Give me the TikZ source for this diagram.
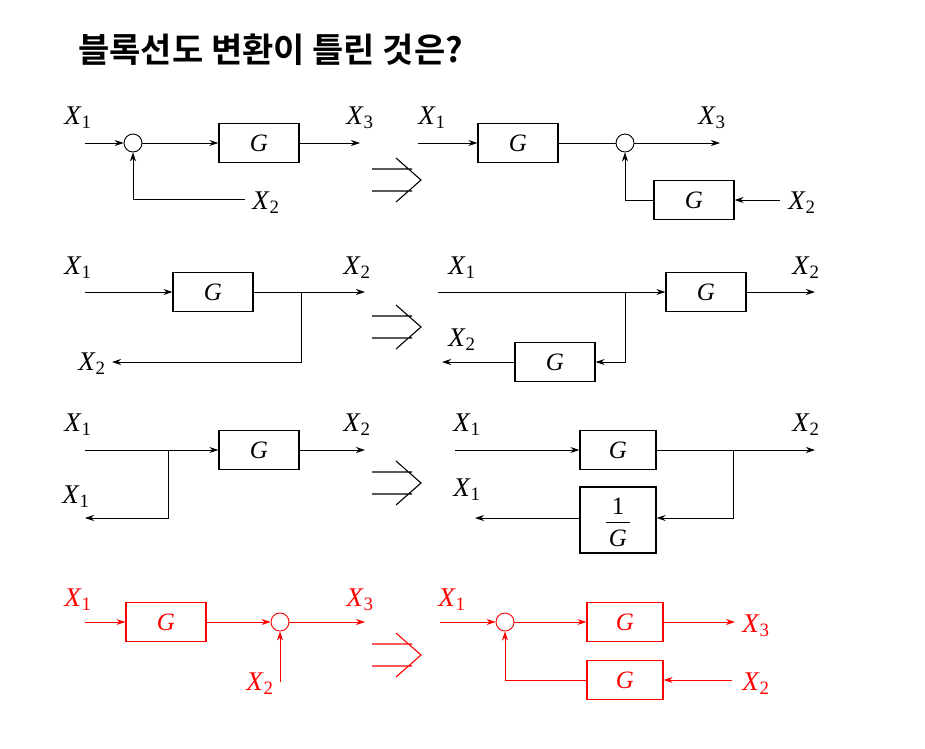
\documentclass[tikz,border=0pt]{standalone}
\usepackage{fix-cm}
\usepackage{fontspec}
\setmainfont{Liberation Serif}
\newfontfamily\kr{Noto Sans CJK KR}[BoldFont={* Bold}]
\usetikzlibrary{arrows.meta}
\newcommand{\xv}[1]{\textit{X}\textsubscript{#1}}
\begin{document}
\begin{tikzpicture}[x=1pt,y=-1pt,
  blk/.style={draw,line width=1.3pt,minimum width=80pt,minimum height=39pt,inner sep=0pt,font=\fontsize{25}{25}\selectfont\itshape},
  sm/.style={draw,circle,minimum size=18pt,inner sep=0pt,line width=0.9pt},
  lab/.style={inner sep=0pt,font=\fontsize{27}{27}\selectfont},
  num/.style={inner sep=0pt,font=\fontsize{34}{34}\selectfont},
  ln/.style={line width=0.9pt},
  ar/.style={ln,-{Stealth[length=9pt,width=6pt]}},
  imp/.style={line width=1.1pt}]
\useasboundingbox (0,0) rectangle (925,748);
\fill[white] (0,0) rectangle (925,748);
\node[anchor=west,inner sep=0pt,font=\kr\bfseries\fontsize{34}{34}\selectfont] (title) at (78,50) {블록선도 변환이 틀린 것은?};
\newcommand{\impl}[1]{\draw[imp] (372,#1-11)--(412,#1-11) (372,#1+11)--(412,#1+11) (396,#1-22)--(421,#1)--(396,#1+22);}
\node[num] (n1) at (22,162) {①};
\node[num] (n2) at (22,325) {②};
\node[num] (n3) at (22,483) {③};
\node[num,red] (n4) at (22,650) {④};
% row 1 left
\node[lab] (a1) at (78,118) {\xv{1}};
\coordinate (a1s) at (85,143);
\node[sm] (c1) at (133,143) {};
\node[blk] (g1) at (259,143) {G};
\coordinate (a3e) at (360,143);
\node[lab] (a3) at (360,118) {\xv{3}};
\coordinate (a2s) at (245,199);
\node[lab] (a2) at (266,203) {\xv{2}};
\draw[ar] (a1s)--(c1);
\draw[ar] (c1)--(g1);
\draw[ar] (g1)--(a3e);
\draw[ar] (a2s)-|(c1);
\impl{180}
% row 1 right
\node[lab] (b1) at (432,118) {\xv{1}};
\coordinate (b1s) at (418,143);
\node[blk] (h1) at (518,143) {G};
\node[sm] (d1) at (625,143) {};
\coordinate (b3e) at (720,143);
\node[lab] (b3) at (712,118) {\xv{3}};
\node[blk] (h2) at (694,200) {G};
\coordinate (b2s) at (780,200);
\node[lab] (b2) at (802,203) {\xv{2}};
\draw[ar] (b1s)--(h1);
\draw[ln] (h1)--(d1);
\draw[ar] (d1)--(b3e);
\draw[ar] (b2s)--(h2);
\draw[ar] (h2)-|(d1);
% row 2 left
\node[lab] (p1) at (78,268) {\xv{1}};
\coordinate (p1s) at (85,292);
\node[blk] (pg) at (213,292) {G};
\coordinate (p2e) at (365,292);
\node[lab] (p2) at (357,268) {\xv{2}};
\coordinate (pb) at (301,292);
\coordinate (p3e) at (112,362);
\node[lab] (p3) at (92,364) {\xv{2}};
\draw[ar] (p1s)--(pg);
\draw[ar] (pg)--(p2e);
\draw[ar] (pb)|-(p3e);
\impl{327}
% row 2 right
\node[lab] (q1) at (462,268) {\xv{1}};
\coordinate (q1s) at (438,292);
\node[blk] (qg) at (706,292) {G};
\coordinate (q2e) at (815,292);
\node[lab] (q2) at (806,268) {\xv{2}};
\coordinate (qb) at (625,292);
\node[blk] (qh) at (555,362) {G};
\coordinate (q3e) at (442,362);
\node[lab] (q3) at (462,340) {\xv{2}};
\draw[ar] (q1s)--(qg);
\draw[ar] (qg)--(q2e);
\draw[ar] (qb)|-(qh);
\draw[ar] (qh)--(q3e);
% row 3 left
\node[lab] (r1) at (78,425) {\xv{1}};
\coordinate (r1s) at (85,450);
\node[blk] (rg) at (259,450) {G};
\coordinate (r2e) at (365,450);
\node[lab] (r2) at (357,425) {\xv{2}};
\coordinate (rb) at (168,450);
\coordinate (r3e) at (85,518);
\node[lab] (r3) at (76,497) {\xv{1}};
\draw[ar] (r1s)--(rg);
\draw[ar] (rg)--(r2e);
\draw[ar] (rb)|-(r3e);
\impl{483}
% row 3 right
\node[lab] (s1) at (467,425) {\xv{1}};
\coordinate (s1s) at (455,450);
\node[blk,minimum width=76pt] (sg) at (618,450) {G};
\coordinate (s2e) at (815,450);
\node[lab] (s2) at (806,425) {\xv{2}};
\coordinate (sb) at (733,450);
\node[blk,minimum width=76pt,minimum height=66pt,align=center] (sh) at (618,520) {};
\node[inner sep=0pt,font=\fontsize{25}{25}\selectfont] (shn) at (618,506) {1};
\node[inner sep=0pt,font=\fontsize{25}{25}\selectfont\itshape] (shd) at (618,538) {G};
\draw[line width=0.9pt] (606,522)--(630,522);
\coordinate (s3e) at (475,518);
\node[lab] (s3) at (467,490) {\xv{1}};
\draw[ar] (s1s)--(sg);
\draw[ar] (sg)--(s2e);
\draw[ar] (sb)|-(sh.east|-s3e);
\draw[ar] (sh.west|-s3e)--(s3e);
% row 4 (red)
\begin{scope}[red,every node/.append style={red}]
\node[lab] (t1) at (78,600) {\xv{1}};
\coordinate (t1s) at (85,622);
\node[blk] (tg) at (166,622) {G};
\node[sm] (tc) at (280,622) {};
\coordinate (t3e) at (365,622);
\node[lab] (t3) at (360,600) {\xv{3}};
\coordinate (t2s) at (280,682);
\node[lab] (t2) at (260,684) {\xv{2}};
\draw[ar] (t1s)--(tg);
\draw[ar] (tg)--(tc);
\draw[ar] (tc)--(t3e);
\draw[ar] (t2s)--(tc);
\impl{655}
\node[lab] (u1) at (452,600) {\xv{1}};
\coordinate (u1s) at (440,622);
\node[sm] (uc) at (505,622) {};
\node[blk,minimum width=76pt] (ug) at (625,622) {G};
\coordinate (u3e) at (735,622);
\node[lab] (u3) at (756,626) {\xv{3}};
\node[blk,minimum width=76pt] (uh) at (625,680) {G};
\coordinate (u2s) at (732,680);
\node[lab] (u2) at (756,684) {\xv{2}};
\draw[ar] (u1s)--(uc);
\draw[ar] (uc)--(ug);
\draw[ar] (ug)--(u3e);
\draw[ar] (u2s)--(uh);
\draw[ar] (uh)-|(uc);
\end{scope}
\end{tikzpicture}
\end{document}
